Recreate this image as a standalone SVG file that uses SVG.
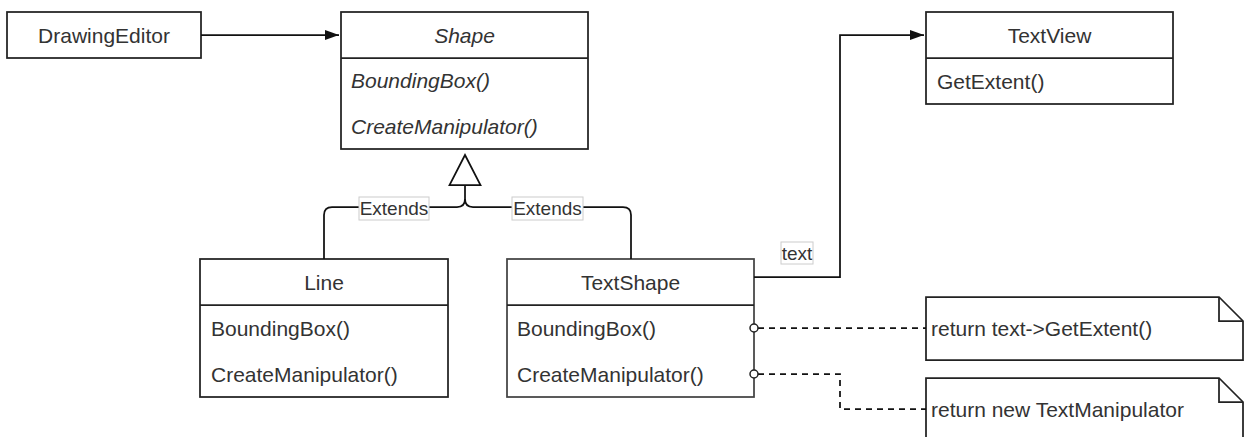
<svg xmlns="http://www.w3.org/2000/svg" width="1244" height="437" viewBox="0 0 1244 437">
<style>
.box{fill:#fff;stroke:#222;stroke-width:1.75}
.sep{stroke:#222;stroke-width:1.75;fill:none}
.t{font-family:"Liberation Sans",Arial,sans-serif;font-size:21px;fill:#333;dominant-baseline:central}
.c{text-anchor:middle}
.i{font-style:italic}
.edge{fill:none;stroke:#111;stroke-width:1.75}
.dash{fill:none;stroke:#111;stroke-width:1.75;stroke-dasharray:6 5}
.lbl{fill:#fff;stroke:#ccc;stroke-width:1}
.lt{font-family:"Liberation Sans",Arial,sans-serif;font-size:19px;fill:#333;dominant-baseline:central;text-anchor:middle}
</style>
<defs>
<marker id="arr" markerWidth="16" markerHeight="12" refX="14" refY="6" orient="auto" markerUnits="userSpaceOnUse">
<path d="M0,1 L14,6 L0,11 Z" fill="#111"/>
</marker>
</defs>
<g id="DrawingEditor">
<rect class="box" x="7" y="12" width="194" height="46"/>
<text class="t c" x="104" y="35">DrawingEditor</text>
</g>
<g id="Shape">
<rect class="box" x="341" y="12" width="247" height="137"/>
<path class="sep" d="M341,58 H588"/>
<text class="t c i" x="464.5" y="35">Shape</text>
<text class="t i" x="351" y="80.5">BoundingBox()</text>
<text class="t i" x="351" y="126">CreateManipulator()</text>
</g>
<g id="TextView">
<rect class="box" x="926" y="12" width="247" height="92"/>
<path class="sep" d="M926,58 H1173"/>
<text class="t c" x="1049.5" y="35">TextView</text>
<text class="t" x="937" y="81">GetExtent()</text>
</g>
<g id="Line">
<rect class="box" x="200" y="259" width="248" height="138"/>
<path class="sep" d="M200,305 H448"/>
<text class="t c" x="324" y="282">Line</text>
<text class="t" x="211" y="328">BoundingBox()</text>
<text class="t" x="211" y="374">CreateManipulator()</text>
</g>
<g id="TextShape">
<rect class="box" x="507" y="259" width="247" height="138" style="stroke:#444"/>
<path class="sep" d="M507,305 H754"/>
<text class="t c" x="630.5" y="282">TextShape</text>
<text class="t" x="517" y="328">BoundingBox()</text>
<text class="t" x="517" y="374">CreateManipulator()</text>
</g>
<g id="Note1">
<path class="box" d="M926,297 H1219 L1243,321 V360 H926 Z"/>
<path class="sep" d="M1219,297 V321 H1243"/>
<text class="t" x="931" y="328">return text-&gt;GetExtent()</text>
</g>
<g id="Note2">
<path class="box" d="M926,378 H1219 L1243,402 V441 H926 Z"/>
<path class="sep" d="M1219,378 V402 H1243"/>
<text class="t" x="931" y="409">return new TextManipulator</text>
</g>
<g id="connectors">
<path class="edge" d="M201,35 H339" marker-end="url(#arr)"/>
<path class="edge" d="M754,277 H840 V35 H924" marker-end="url(#arr)"/>
<path class="edge" d="M465,155 L480.5,185 H449.5 Z" fill="#fff"/>
<path class="edge" d="M465,185 V199 Q465,207 457,207 H332 Q324,207 324,215 V259"/>
<path class="edge" d="M465,199 Q465,207 473,207 H623 Q631,207 631,215 V259"/>
<rect class="lbl" x="359" y="197" width="70" height="23"/>
<text class="lt" x="394" y="208.5">Extends</text>
<rect class="lbl" x="512" y="197" width="71" height="23"/>
<text class="lt" x="547.5" y="208.5">Extends</text>
<rect class="lbl" x="781" y="242" width="32" height="22"/>
<text class="lt" x="797" y="253">text</text>
<path class="dash" d="M758,328 H926"/>
<path class="dash" d="M758,374 H840 V409 H926"/>
<circle cx="754" cy="328" r="4" fill="#fff" stroke="#222" stroke-width="1.5"/>
<circle cx="754" cy="374" r="4" fill="#fff" stroke="#222" stroke-width="1.5"/>
</g>
</svg>
